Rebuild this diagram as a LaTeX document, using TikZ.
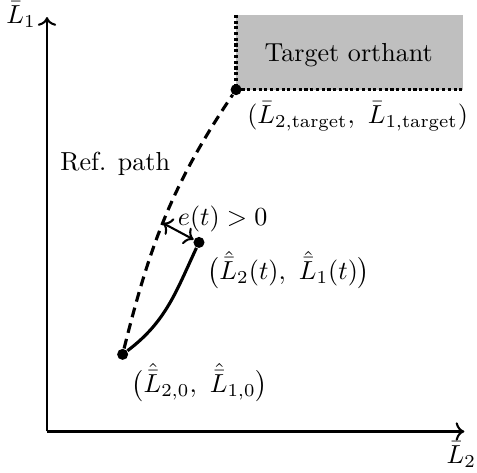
\documentclass[tikz,border=0pt]{standalone}
\usepackage{amsmath,amssymb}
\usetikzlibrary{arrows.meta,calc,positioning}

\tikzset{dot/.style={circle,fill,inner sep=1.5pt}}

\begin{document}
\begin{tikzpicture}[font=\normalsize]
\useasboundingbox (-0.634,-0.553) rectangle (5.80,5.82);
% axes
\coordinate (O) at (0,0);
\coordinate (xend) at (5.63,0);
\coordinate (yend) at (0,5.59);
\draw[thick,->] (O)--(xend);
\draw[thick,->] (O)--(yend);
\node (xlab) at (5.59,-0.31) {$\bar{L}_2$};
\node (ylab) at (-0.35,5.62) {$\bar{L}_1$};
% target orthant
\fill[gray!50] (2.55,4.61) rectangle (5.61,5.62);
\coordinate (ttop) at (2.55,5.62);
\coordinate (tright) at (5.61,4.61);
\node[dot] (tgt) at (2.55,4.61) {};
\draw[line width=1.2pt,densely dotted] (ttop)--(tgt.center)--(tright);
\node (orth) at (4.07,5.08) {Target orthant};
\node (tgtlab) at (4.19,4.25) {$(\bar{L}_{2,\text{target}},\ \bar{L}_{1,\text{target}})$};
% paths
\node[dot] (start) at (1.02,1.04) {};
\node[dot] (cur) at (2.05,2.55) {};
\draw[line width=1.2pt,dash pattern=on 3.8pt off 2.4pt] (start) to[out=76,in=-124] coordinate[pos=0.47] (refpt) (tgt);
\draw[line width=1.2pt] (start) to[out=37,in=-115] (cur);
\draw[thick,<->] (refpt)--(cur);
\node (reflab) at (0.92,3.61) {Ref. path};
\node (elab) at (2.37,2.87) {$e(t)>0$};
\node (curlab) at (3.26,2.18) {$\bigl(\hat{\bar{L}}_2(t),\ \hat{\bar{L}}_1(t)\bigr)$};
\node (startlab) at (2.06,0.66) {$\bigl(\hat{\bar{L}}_{2,0},\ \hat{\bar{L}}_{1,0}\bigr)$};
\end{tikzpicture}
\end{document}
